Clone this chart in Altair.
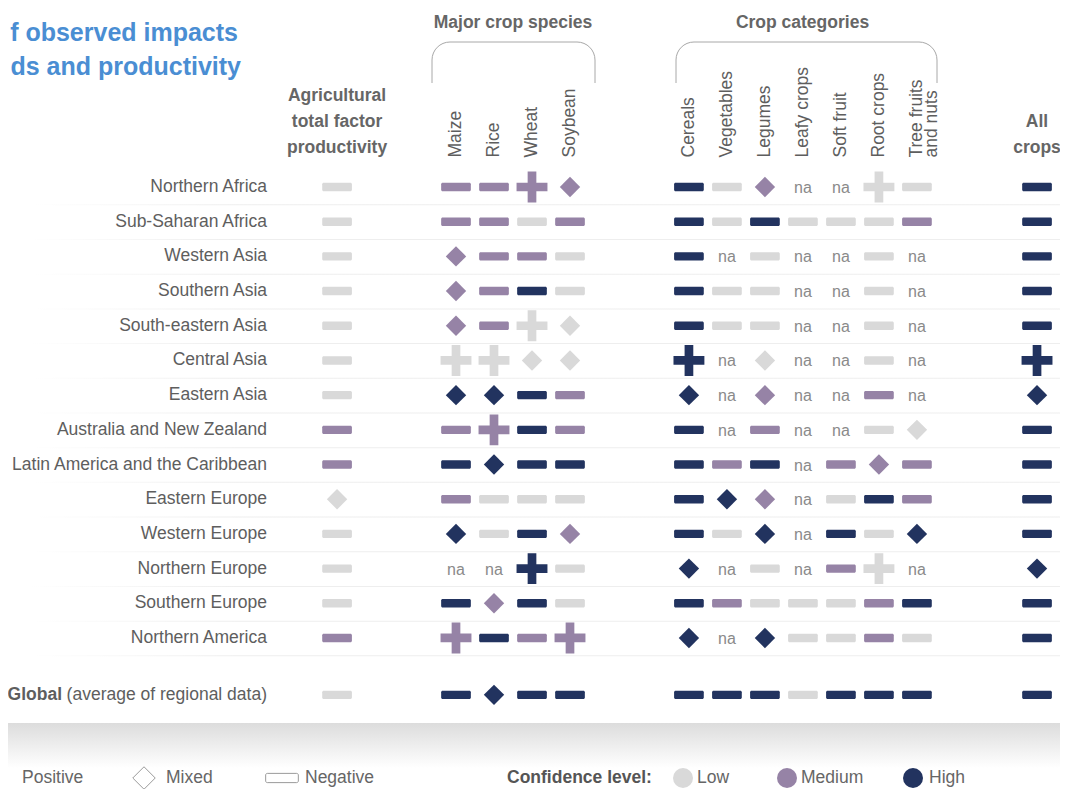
import altair as alt
import pandas as pd

# ---------------- data ----------------
regions = ["Northern Africa", "Sub-Saharan Africa", "Western Asia", "Southern Asia",
           "South-eastern Asia", "Central Asia", "Eastern Asia", "Australia and New Zealand",
           "Latin America and the Caribbean", "Eastern Europe", "Western Europe",
           "Northern Europe", "Southern Europe", "Northern America", "Global"]

columns = ["Agricultural total factor productivity", "Maize", "Rice", "Wheat", "Soybean",
           "Cereals", "Vegetables", "Legumes", "Leafy crops", "Soft fruit", "Root crops",
           "Tree fruits and nuts", "All crops"]

# codes: first letter = direction (P positive, M mixed, N negative), second = confidence (L, M, H)
atfp        = ["NL", "NL", "NL", "NL", "NL", "NL", "NL", "NM", "NM", "ML", "NL", "NL", "NL", "NM", "NL"]
maize       = ["NM", "NM", "MM", "MM", "MM", "PL", "MH", "NM", "NH", "NM", "MH", "na", "NH", "PM", "NH"]
rice        = ["NM", "NM", "NM", "NM", "NM", "PL", "MH", "PM", "MH", "NL", "NL", "na", "MM", "NH", "MH"]
wheat       = ["PM", "NL", "NM", "NH", "PL", "ML", "NH", "NH", "NH", "NL", "NH", "PH", "NH", "NM", "NH"]
soybean     = ["MM", "NM", "NL", "NL", "ML", "ML", "NM", "NM", "NH", "NL", "MM", "NL", "NL", "PM", "NH"]
cereals     = ["NH", "NH", "NH", "NH", "NH", "PH", "MH", "NH", "NH", "NH", "NH", "MH", "NH", "MH", "NH"]
vegetables  = ["NL", "NL", "na", "NL", "NL", "na", "na", "na", "NM", "MH", "NL", "na", "NM", "na", "NH"]
legumes     = ["MM", "NH", "NL", "NL", "NL", "ML", "MM", "NM", "NH", "MM", "MH", "NL", "NL", "MH", "NH"]
leafy_crops = ["na", "NL", "na", "na", "na", "na", "na", "na", "na", "na", "na", "na", "NL", "NL", "NL"]
soft_fruit  = ["na", "NL", "na", "na", "na", "na", "na", "na", "NM", "NL", "NH", "NM", "NL", "NL", "NH"]
root_crops  = ["PL", "NL", "NL", "NL", "NL", "NL", "NM", "NL", "MM", "NH", "NL", "PL", "NM", "NM", "NH"]
tree_fruits = ["NL", "NM", "na", "na", "na", "na", "na", "ML", "NM", "NM", "MH", "na", "NH", "NL", "NH"]
all_crops   = ["NH", "NH", "NH", "NH", "NH", "PH", "MH", "NH", "NH", "NH", "NH", "MH", "NH", "NH", "NH"]

rotated_labels = ["Maize", "Rice", "Wheat", "Soybean", "Cereals", "Vegetables", "Legumes",
                  "Leafy crops", "Soft fruit", "Root crops", "Tree fruits\nand nuts"]
types = ["Positive", "Mixed", "Negative"]
confs = ["Low", "Medium", "High"]

series = [atfp, maize, rice, wheat, soybean, cereals, vegetables, legumes,
          leafy_crops, soft_fruit, root_crops, tree_fruits, all_crops]

# ---------------- layout ----------------
W, H = 1052, 781
M = 8
X0, DX = 456, 38.0      # page x of slot 0, slot width
Y0, DY = 187, 34.69     # page y of row 0, row height
col_slot = [-3.13, 0, 1, 2, 3, 6.13, 7.13, 8.13, 9.13, 10.13, 11.13, 12.13, 15.29]
row_pos = list(range(14)) + [14.64]


def sx(px):
    return (px - X0) / DX


def sy(py):
    return (py - Y0) / DY


x_scale = alt.Scale(domain=[sx(M), sx(M + W)], nice=False, zero=False)
y_scale = alt.Scale(domain=[sy(M), sy(M + H)], nice=False, zero=False, reverse=True)

TYPE_MAP = {"P": "Positive", "M": "Mixed", "N": "Negative"}
CONF_MAP = {"L": "Low", "M": "Medium", "H": "High"}

rows, na_rows = [], []
for ci, col in enumerate(series):
    for ri, code in enumerate(col):
        if code == "na":
            na_rows.append({"xs": col_slot[ci], "ys": row_pos[ri], "t": "na"})
        else:
            rows.append({"xs": col_slot[ci], "ys": row_pos[ri], "region": regions[ri],
                         "column": columns[ci], "type": TYPE_MAP[code[0]],
                         "conf": CONF_MAP[code[1]]})
df = pd.DataFrame(rows)
df_na = pd.DataFrame(na_rows)

PATHS = {
    "Positive": "M-0.29,-1.03 L0.29,-1.03 L0.29,-0.29 L1.03,-0.29 L1.03,0.29 L0.29,0.29 "
                "L0.29,1.03 L-0.29,1.03 L-0.29,0.29 L-1.03,0.29 L-1.03,-0.29 L-0.29,-0.29 Z",
    "Mixed": "M0,-0.68 L0.68,0 L0,0.68 L-0.68,0 Z",
    "Negative": "M-0.89,-0.28 L0.89,-0.28 A0.1,0.1 0 0 1 0.99,-0.18 L0.99,0.18 "
                "A0.1,0.1 0 0 1 0.89,0.28 L-0.89,0.28 A0.1,0.1 0 0 1 -0.99,0.18 "
                "L-0.99,-0.18 A0.1,0.1 0 0 1 -0.89,-0.28 Z",
}
shape_scale = alt.Scale(domain=types, range=[PATHS[t] for t in types])
color_scale = alt.Scale(domain=confs, range=["#d9d9d9", "#9683a6", "#22335f"])

FONT = "Liberation Sans"
GREY = "#666666"
LABEL = "#5e5e5e"


def X(field="xs"):
    return alt.X(f"{field}:Q", scale=x_scale, axis=None)


def Y(field="ys"):
    return alt.Y(f"{field}:Q", scale=y_scale, axis=None)


one = pd.DataFrame({"d": [0]})

# ---------------- background pieces ----------------
band = alt.Chart(one).mark_rect(
    color=alt.Gradient(gradient="linear", x1=0, x2=0, y1=0, y2=1,
                       stops=[alt.GradientStop(offset=0, color="#dcdcdc"),
                              alt.GradientStop(offset=0.45, color="#ececec"),
                              alt.GradientStop(offset=1, color="#ffffff")])
).encode(x=alt.value(0), x2=alt.value(W), y=alt.value(723 - M), y2=alt.value(768 - M))

sep = pd.DataFrame({"ys": [r + 0.5 for r in range(14)],
                    "ys2": [r + 0.5 + 1.0 / DY for r in range(14)]})
seps = alt.Chart(sep).mark_rect(
    color=alt.Gradient(gradient="linear", x1=0, x2=1, y1=0, y2=0,
                       stops=[alt.GradientStop(offset=0, color="#ffffff"),
                              alt.GradientStop(offset=0.2, color="#eeeeee"),
                              alt.GradientStop(offset=1, color="#eeeeee")])
).encode(x=alt.value(30 - M), x2=alt.value(W), y=Y("ys"), y2="ys2:Q")


def bracket(x_left, x_right, y_top, y_bot, r=18.0):
    s = 100.0
    hw = (x_right - x_left) / 2 / s
    hh = (y_bot - y_top) / 2 / s
    rr = r / s
    path = (f"M{-hw:.3f},{hh:.3f} L{-hw:.3f},{-hh + rr:.3f} A{rr},{rr} 0 0 1 {-hw + rr:.3f},{-hh:.3f} "
            f"L{hw - rr:.3f},{-hh:.3f} A{rr},{rr} 0 0 1 {hw:.3f},{-hh + rr:.3f} L{hw:.3f},{hh:.3f}")
    return alt.Chart(one).mark_point(filled=False, stroke="#a8a8a8", strokeWidth=1,
                                     size=(2 * s) ** 2, opacity=1, shape=path).encode(
        x=alt.value((x_left + x_right) / 2 - M), y=alt.value((y_top + y_bot) / 2 - M))


br1 = bracket(432, 595, 42, 83)
br2 = bracket(676, 937, 42, 83)

# ---------------- texts ----------------
title_df = pd.DataFrame({"t": ["f observed impacts", "ds and productivity"],
                         "xp": [238 - M, 241 - M], "yp": [40.5 - M, 75 - M]})
title = alt.Chart(title_df).mark_text(align="right", baseline="alphabetic", font=FONT,
                                      fontSize=25, fontWeight="bold", color="#4a8ed3").encode(
    text="t:N", x=alt.X("xp:Q", scale=None, axis=None), y=alt.Y("yp:Q", scale=None, axis=None))

grp_df = pd.DataFrame({"t": ["Major crop species", "Crop categories"],
                       "xs": [sx(513), sx(802.5)], "ys": [sy(23), sy(23)]})
grp = alt.Chart(grp_df).mark_text(align="center", baseline="middle", font=FONT, fontSize=17.5,
                                  fontWeight="bold", color=GREY).encode(
    text="t:N", x=X(), y=Y())

hdr_df = pd.DataFrame({"t": ["Agricultural", "total factor", "productivity", "All", "crops"],
                       "xs": [col_slot[0]] * 3 + [col_slot[-1]] * 2,
                       "ys": [sy(96), sy(122), sy(148), sy(122), sy(148)]})
hdr = alt.Chart(hdr_df).mark_text(align="center", baseline="middle", font=FONT, fontSize=17.5,
                                  fontWeight="bold", color=GREY).encode(
    text="t:N", x=X(), y=Y())

rot_df = pd.DataFrame({"t": rotated_labels, "xs": col_slot[1:12], "ys": [sy(157.5)] * 11})
rot = alt.Chart(rot_df).mark_text(align="left", baseline="middle", angle=270, font=FONT,
                                  fontSize=17.5, color=LABEL, lineBreak="\n",
                                  lineHeight=15).encode(
    text="t:N", x=X(), y=Y())

reg_df = pd.DataFrame({"t": regions[:-1], "ys": row_pos[:-1]})
reg = alt.Chart(reg_df).mark_text(align="right", baseline="middle", font=FONT, fontSize=17.5,
                                  color=LABEL).encode(
    text="t:N", x=alt.value(267 - M), y=Y())

glob_df = pd.DataFrame({"t": ["(average of regional data)"], "ys": [row_pos[-1]]})
glob = alt.Chart(glob_df).mark_text(align="right", baseline="middle", font=FONT, fontSize=17.5,
                                    color=LABEL).encode(
    text="t:N", x=alt.value(267 - M), y=Y())
globb_df = pd.DataFrame({"t": ["Global"], "ys": [row_pos[-1]]})
globb = alt.Chart(globb_df).mark_text(align="right", baseline="middle", font=FONT, fontSize=17.5,
                                      fontWeight="bold", color=LABEL).encode(
    text="t:N", x=alt.value(62 - M), y=Y())

# ---------------- data marks ----------------
pts = alt.Chart(df).mark_point(filled=True, size=900, opacity=1, strokeWidth=0).encode(
    x=X(), y=Y(),
    shape=alt.Shape("type:N", scale=shape_scale, legend=None),
    color=alt.Color("conf:N", scale=color_scale, legend=None),
    tooltip=["region:N", "column:N", "type:N", "conf:N"])

na = alt.Chart(df_na).mark_text(align="center", baseline="middle", font=FONT, fontSize=16,
                                color="#8a8a8a", dy=1).encode(text="t:N", x=X(), y=Y())

# ---------------- legend ----------------
LY = 778
leg_shape_df = pd.DataFrame({"type": ["Mixed", "Negative"], "xs": [sx(144), sx(282)],
                             "ys": [sy(LY), sy(LY)]})
leg_shapes = alt.Chart(leg_shape_df).mark_point(filled=False, size=1089, opacity=1,
                                                 stroke="#9a9a9a", strokeWidth=1).encode(
    x=X(), y=Y(), shape=alt.Shape("type:N", scale=shape_scale, legend=None))

leg_circ_df = pd.DataFrame({"conf": confs, "xs": [sx(683), sx(787), sx(913)],
                            "ys": [sy(LY)] * 3})
leg_circ = alt.Chart(leg_circ_df).mark_point(filled=True, size=400, opacity=1,
                                             shape="circle").encode(
    x=X(), y=Y(), color=alt.Color("conf:N", scale=color_scale, legend=None))

leg_txt_df = pd.DataFrame({"t": ["Positive", "Mixed", "Negative", "Low", "Medium", "High"],
                           "xs": [sx(22), sx(166), sx(305), sx(697), sx(801), sx(929)],
                           "ys": [sy(LY)] * 6})
leg_txt = alt.Chart(leg_txt_df).mark_text(align="left", baseline="middle", font=FONT,
                                          fontSize=17.5, color=GREY).encode(
    text="t:N", x=X(), y=Y())

leg_ttl_df = pd.DataFrame({"t": ["Confidence level:"], "xs": [sx(507)], "ys": [sy(LY)]})
leg_ttl = alt.Chart(leg_ttl_df).mark_text(align="left", baseline="middle", font=FONT,
                                          fontSize=17.5, fontWeight="bold", color="#555555").encode(
    text="t:N", x=X(), y=Y())

chart = alt.layer(
    band, seps, br1, br2, title, grp, hdr, rot, reg, glob, globb, pts, na,
    leg_shapes, leg_circ, leg_txt, leg_ttl
).properties(
    width=W, height=H, padding=0,
    autosize=alt.AutoSizeParams(type="none"),
    background="white",
).configure_view(stroke=None)

chart.save("out.html", embed_options={"renderer": "svg", "actions": False})
